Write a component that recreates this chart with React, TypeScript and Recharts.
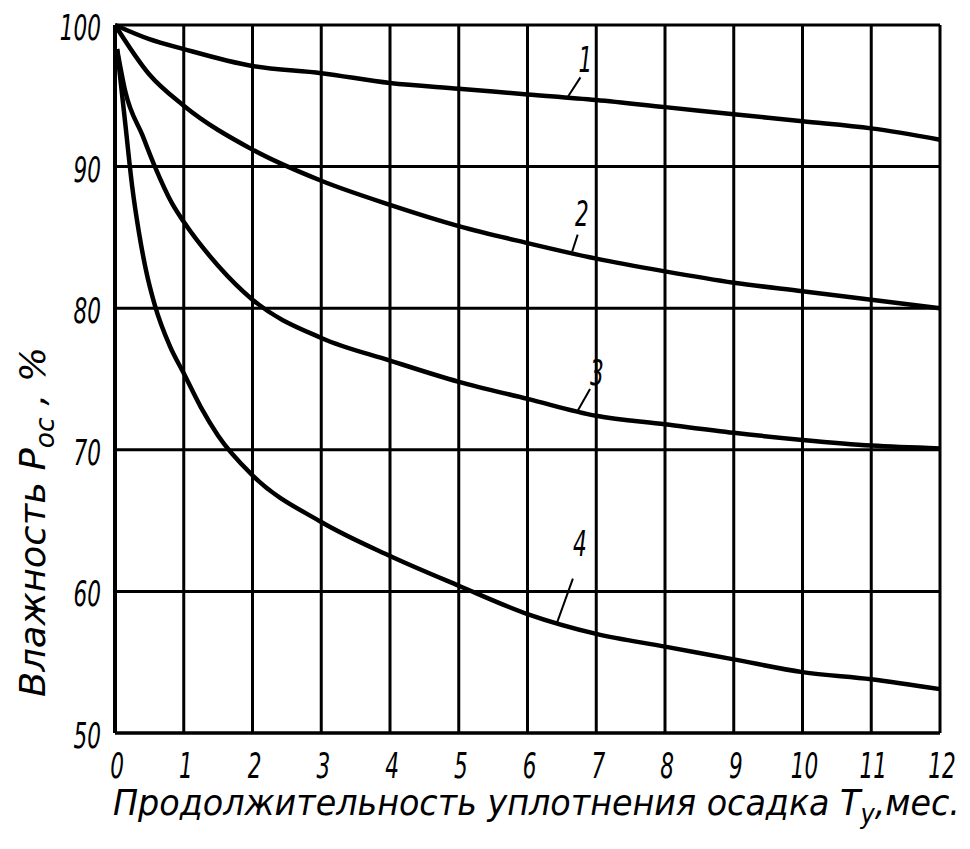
import React from 'react';
import { ComposedChart, Line, Scatter, XAxis, YAxis, CartesianGrid, ReferenceLine } from 'recharts';

// duration of sludge compaction, months
const months = [0, 1, 2, 3, 4, 5, 6, 7, 8, 9, 10, 11, 12];
const moistureTicks = [50, 60, 70, 80, 90, 100];

// curve 1
const curve1T = [0, 0.5, 1, 2, 3, 4, 5, 6, 7, 8, 9, 10, 11, 12];
const curve1V = [100, 99.0, 98.3, 97.1, 96.6, 95.9, 95.5, 95.1, 94.7, 94.2, 93.7, 93.2, 92.7, 91.9];
// curve 2
const curve2T = [0, 0.5, 1, 2, 3, 4, 5, 6, 7, 8, 9, 10, 11, 12];
const curve2V = [100, 96.5, 94.3, 91.2, 89.0, 87.3, 85.8, 84.6, 83.5, 82.6, 81.8, 81.2, 80.6, 80.0];
// curve 3
const curve3T = [0.03, 0.15, 0.4, 0.58, 0.83, 1, 1.5, 2, 3, 4, 5, 6, 7, 8, 9, 10, 11, 12];
const curve3V = [98.3, 95.3, 92.2, 90.0, 87.4, 86.1, 83.0, 80.6, 77.9, 76.3, 74.8, 73.6, 72.4, 71.8, 71.2, 70.7, 70.3, 70.1];
// curve 4
const curve4T = [0.03, 0.15, 0.25, 0.35, 0.45, 0.58, 0.8, 1, 1.25, 1.5, 2, 3, 4, 5, 6, 7, 8, 9, 10, 11, 12];
const curve4V = [98.3, 93.0, 88.6, 85.3, 82.7, 80.2, 77.3, 75.4, 73.0, 71.0, 68.2, 64.9, 62.5, 60.4, 58.4, 57.0, 56.1, 55.2, 54.3, 53.8, 53.1];

// curve numbers and their leader lines
const labelNames = ['1', '2', '3', '4'];
const labelT = [6.84, 6.79, 7.01, 6.76];
const labelV = [97.6, 86.7, 75.5, 63.4];
const leaderFromT = [6.59, 6.65, 6.73, 6.43];
const leaderFromV = [94.95, 84.0, 72.75, 57.8];
const leaderToT = [6.77, 6.73, 6.91, 6.66];
const leaderToV = [96.3, 85.2, 74.3, 60.9];

const zip = (ts: number[], vs: number[]) => ts.map((t, i) => ({ t, v: vs[i] }));
const curves = [zip(curve1T, curve1V), zip(curve2T, curve2V), zip(curve3T, curve3V), zip(curve4T, curve4V)];
const labels = labelNames.map((name, i) => ({ t: labelT[i], v: labelV[i], name }));

const FONT = "'DejaVu Sans', 'Liberation Sans', sans-serif";

const XTick = (props: any) => {
  const { x, y, payload } = props;
  return (
    <text transform={`translate(${x + 2},${y + 45}) scale(0.6,1)`} textAnchor="middle" fontSize={36} fontStyle="italic" fontFamily={FONT} fill="#000">
      {payload.value}
    </text>
  );
};

const YTick = (props: any) => {
  const { x, y, payload } = props;
  return (
    <text transform={`translate(${x},${y + 15}) scale(0.6,1)`} textAnchor="end" fontSize={36} fontStyle="italic" fontFamily={FONT} fill="#000">
      {payload.value}
    </text>
  );
};

const XTitle = (props: any) => {
  const vb = props.viewBox || { x: 107, y: 725 };
  return (
    <text x={vb.x - 2} y={vb.y + 82} fontSize={36} fontStyle="italic" fontFamily={FONT} fill="#000" textLength={847} lengthAdjust="spacingAndGlyphs">
      Продолжительность уплотнения осадка T<tspan fontSize={26} dy={8}>у</tspan><tspan dy={-8}>,мес.</tspan>
    </text>
  );
};

const YTitle = () => (
  <text transform="translate(37,514) rotate(-90)" textAnchor="middle" fontSize={36} fontStyle="italic" fontFamily={FONT} fill="#000" textLength={350} lengthAdjust="spacingAndGlyphs">
    Влажность Р<tspan fontSize={26} dy={9}>ос</tspan><tspan dy={-9}> , %</tspan>
  </text>
);

const CurveNumber = (props: any) => {
  const { cx, cy, payload } = props;
  return (
    <text transform={`translate(${cx},${cy + 13}) scale(0.6,1)`} textAnchor="middle" fontSize={36} fontStyle="italic" fontFamily={FONT} fill="#000">
      {payload.name}
    </text>
  );
};

export default function App() {
  return (
    <div style={{ width: 962, height: 841, background: '#fff' }}>
      <ComposedChart width={962} height={841} margin={{ top: 17, right: 30, left: 7, bottom: 16 }}>
        <CartesianGrid stroke="#000" strokeWidth={3} />
        <XAxis
          dataKey="t"
          type="number"
          domain={[0, 12]}
          ticks={months}
          interval={0}
          height={100}
          tickSize={0}
          tickMargin={0}
          tick={<XTick />}
          axisLine={{ stroke: '#000', strokeWidth: 3 }}
          label={<XTitle />}
        />
        <YAxis
          dataKey="v"
          type="number"
          domain={[50, 100]}
          ticks={moistureTicks}
          interval={0}
          width={100}
          tickSize={0}
          tickMargin={14}
          tick={<YTick />}
          axisLine={{ stroke: '#000', strokeWidth: 4 }}
          label={<YTitle />}
        />
        {curves.map((data, i) => (
          <Line
            key={i}
            data={data}
            dataKey="v"
            type="monotone"
            stroke="#000"
            strokeWidth={4.5}
            dot={false}
            activeDot={false}
            isAnimationActive={false}
          />
        ))}
        {labelNames.map((name, i) => (
          <ReferenceLine
            key={name}
            segment={[
              { x: leaderFromT[i], y: leaderFromV[i] },
              { x: leaderToT[i], y: leaderToV[i] },
            ]}
            stroke="#000"
            strokeWidth={2}
          />
        ))}
        <Scatter data={labels} dataKey="v" shape={<CurveNumber />} isAnimationActive={false} />
      </ComposedChart>
    </div>
  );
}
